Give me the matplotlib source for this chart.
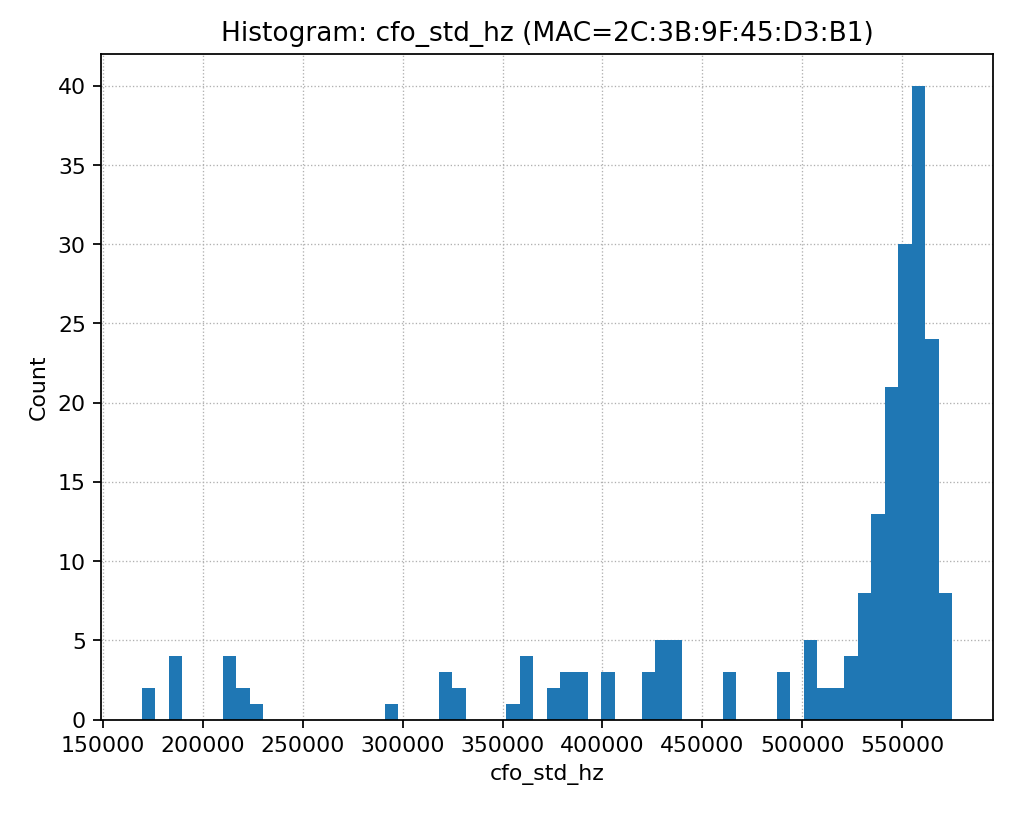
import matplotlib
matplotlib.use("Agg")
import matplotlib.pyplot as plt
import numpy as np

x_min = 169500
x_max = 575000
n_bins = 60
bin_index = [0, 2, 6, 7, 8, 18, 22, 23, 27, 28, 30, 31, 32, 34, 37, 38, 39, 43, 47,
             49, 50, 51, 52, 53, 54, 55, 56, 57, 58, 59]
counts = [2, 4, 4, 2, 1, 1, 3, 2, 1, 4, 2, 3, 3, 3, 3, 5, 5, 3, 3,
          5, 2, 2, 4, 8, 13, 21, 30, 40, 24, 8]

edges = np.linspace(x_min, x_max, n_bins + 1)
centers = (edges[:-1] + edges[1:]) / 2
vals = [centers[i] for i in bin_index]

fig = plt.figure(figsize=(6.4, 5.158), dpi=158.125)
ax = fig.add_axes([0.1, 0.117, 0.881, 0.816])
ax.hist(vals, bins=edges, weights=counts, color="#1f77b4")
ax.grid(True, linestyle=":", linewidth=0.6, color="#b0b0b0")
ax.set_axisbelow(True)
ax.set_xlabel("cfo_std_hz")
ax.set_ylabel("Count")
ax.set_title("Histogram: cfo_std_hz (MAC=2C:3B:9F:45:D3:B1)")
fig.savefig("out.png")
